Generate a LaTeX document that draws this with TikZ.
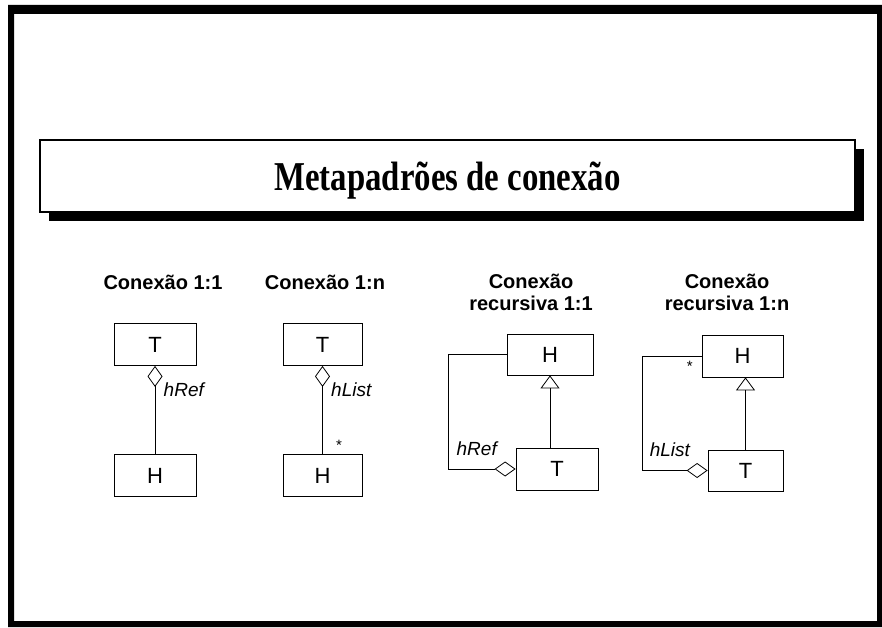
\documentclass[tikz,border=0pt]{standalone}
\usepackage{fontspec}
\setmainfont{Liberation Serif}
\newfontfamily\arialfont{Liberation Sans}
\newfontfamily\titlefont[FakeStretch=0.8]{Liberation Serif}
\usetikzlibrary{arrows.meta,positioning,shadows}

\begin{document}
\begin{tikzpicture}[x=1pt,y=-1pt,node distance=131pt,on grid,auto,
  cls/.style={draw,line width=0.8pt,minimum width=82pt,minimum height=42pt,inner sep=0pt,font=\arialfont\fontsize{22}{24}\selectfont},
  heading/.style={align=center,font=\arialfont\bfseries\fontsize{20}{22}\selectfont},
  role/.style={font=\arialfont\itshape\fontsize{19}{21}\selectfont},
  mult/.style={font=\arialfont\fontsize{15}{15}\selectfont},
  aggr/.style={{Diamond[open,length=21pt,width=15pt]}-,line width=0.8pt},
  gen/.style={-{Triangle[open,length=13pt,width=19pt]},line width=0.8pt},
  banner/.style={draw,line width=2pt,fill=white,minimum width=815pt,minimum height=72pt,
    general shadow={fill=black,shadow xshift=9pt,shadow yshift=-9pt}}]
  \useasboundingbox (0,0) rectangle (882,628);
  \fill[even odd rule] (8,5) rectangle (882,627) (14,14) rectangle (877,621);

  \node[banner] (banner) at (447.5,176) {};
  \node[anchor=base,font=\titlefont\bfseries\fontsize{41}{44}\selectfont] (title) at (447.5,191) {Metapadrões de conexão};

  \node[heading,anchor=base] (c1) at (163,289) {Conexão 1:1};
  \node[cls] (t1) at (155,344.5) {T};
  \node[cls] (h1) [below=of t1] {H};

  \node[heading,anchor=base] (c2) at (325,289) {Conexão 1:n};
  \node[cls,minimum width=79pt] (t2) at (322.5,344.5) {T};
  \node[cls,minimum width=79pt] (h2) [below=of t2] {H};

  \node[heading] (c3) at (531,292) {Conexão\\recursiva 1:1};
  \node[cls,minimum width=86pt,minimum height=41pt] (h3) at (550,354.5) {H};
  \node[cls] (t3) [below=114.5pt of h3,xshift=7pt] {T};

  \node[heading] (c4) at (727,292) {Conexão\\recursiva 1:n};
  \node[cls,minimum width=81pt] (h4) at (742.5,356) {H};
  \node[cls,minimum width=75pt,minimum height=41pt] (t4) [below=114.5pt of h4,xshift=3pt] {T};

  \path
  (t1)
  edge [aggr] node [role,pos=0.27,anchor=west,xshift=5pt] {hRef} (h1)
  (t2)
  edge [aggr] node [role,pos=0.27,anchor=west,xshift=5pt] {hList}
              node [mult,pos=0.9,anchor=west,xshift=10pt] {*} (h2)
  ;

  \draw[aggr] (t3.west) -- ++(-67,0) node [role,pos=0.58,above=10pt] {hRef} |- (h3.west);
  \draw[gen] (h3.south |- t3.north) -- (h3.south);

  \draw[aggr] (t4.west) -- ++(-65,0) node [role,pos=0.58,above=10pt] {hList}
    |- node [mult,pos=0.9,below=1pt] {*} (h4.west);
  \draw[gen] (t4.north) -- (t4.north |- h4.south);
\end{tikzpicture}
\end{document}
